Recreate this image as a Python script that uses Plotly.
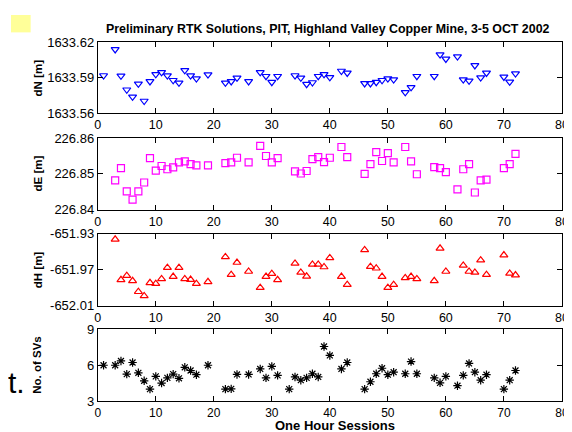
import plotly.graph_objects as go

# ---------------- data ----------------
dn_sessions = [1, 3, 4, 5, 6, 7, 8, 9, 10, 11, 12, 13, 14, 15, 16, 17, 19, 22, 23, 24, 26, 28, 29, 30, 31,
               34, 35, 36, 37, 38, 39, 40, 42, 43, 46, 47, 48, 49, 50, 51, 53, 54, 55, 58, 59, 60, 62, 63,
               64, 65, 66, 67, 70, 71, 72]
dn_values = [1633.592, 1633.614, 1633.5917, 1633.580, 1633.574, 1633.585, 1633.5705, 1633.587, 1633.593,
             1633.5947, 1633.5919, 1633.588, 1633.5858, 1633.5964, 1633.5919, 1633.5894, 1633.5928,
             1633.5858, 1633.587, 1633.590, 1633.587, 1633.5947, 1633.5914, 1633.5864, 1633.5914,
             1633.592, 1633.590, 1633.5847, 1633.5861, 1633.5914, 1633.593, 1633.5905, 1633.5958,
             1633.5942, 1633.5853, 1633.5853, 1633.5864, 1633.588, 1633.5894, 1633.5886, 1633.5778,
             1633.582, 1633.5914, 1633.5914, 1633.6097, 1633.606, 1633.608, 1633.5886, 1633.5875,
             1633.6005, 1633.5903, 1633.5942, 1633.5908, 1633.5867, 1633.5936]

de_sessions = [3, 4, 5, 6, 7, 8, 9, 10, 11, 12, 13, 14, 15, 16, 17, 19, 22, 23, 24, 26, 28, 29, 30, 31,
               34, 35, 36, 37, 38, 39, 40, 42, 43, 46, 47, 48, 49, 50, 51, 53, 54, 55, 58, 59, 60, 62, 63,
               64, 65, 66, 67, 70, 71, 72]
de_values = [226.8482, 226.8516, 226.8451, 226.8428, 226.8451, 226.8476, 226.8544, 226.8509, 226.8522,
             226.8513, 226.8518, 226.8532, 226.8535, 226.8527, 226.8524, 226.8524, 226.8530, 226.8532,
             226.8545, 226.8532, 226.8578, 226.8550, 226.8532, 226.8544, 226.8507, 226.8501, 226.8508,
             226.8541, 226.8547, 226.8533, 226.8545, 226.8575, 226.8547, 226.8500, 226.8527, 226.8561,
             226.8536, 226.8558, 226.8532, 226.8575, 226.8535, 226.8499, 226.8519, 226.8516, 226.8505,
             226.8457, 226.8513, 226.8527, 226.8448, 226.8482, 226.8484, 226.8516, 226.8527, 226.8556]

dh_sessions = [3, 4, 5, 6, 7, 8, 9, 10, 11, 12, 13, 14, 15, 16, 17, 19, 22, 23, 24, 26, 28, 29, 30, 31,
               34, 35, 36, 37, 38, 39, 40, 42, 43, 46, 47, 48, 49, 50, 51, 53, 54, 55, 58, 59, 60, 63,
               64, 65, 66, 67, 70, 71, 72]
dh_values = [-651.9361, -651.9813, -651.9767, -651.9824, -651.9946, -651.9993, -651.9846, -651.9856,
             -651.9803, -651.9677, -651.9777, -651.9677, -651.9803, -651.9810, -651.9856, -651.9835,
             -651.9558, -651.9756, -651.9620, -651.9720, -651.9900, -651.9777, -651.9745, -651.9813,
             -651.9630, -651.9731, -651.9774, -651.9641, -651.9641, -651.9670, -651.9569, -651.9777,
             -651.9867, -651.9480, -651.9666, -651.9684, -651.9777, -651.9900, -651.9867, -651.9792,
             -651.9777, -651.9803, -651.9824, -651.9462, -651.9720, -651.9652, -651.9720, -651.9731,
             -651.9594, -651.9756, -651.9537, -651.9742, -651.9760]

sv_sessions = [1, 3, 4, 5, 6, 7, 8, 9, 10, 11, 12, 13, 14, 15, 16, 17, 19, 22, 23, 24, 26, 28, 29, 30, 31,
               33, 34, 35, 36, 37, 38, 39, 40, 42, 43, 46, 47, 48, 49, 50, 51, 53, 54, 55, 58, 59, 60, 62,
               63, 64, 65, 66, 67, 70, 71, 72]
sv_values = [6.0, 6.0, 6.36, 5.26, 6.23, 5.37, 4.70, 4.0, 5.07, 4.51, 4.94, 5.26, 4.91, 5.83, 5.56, 5.21,
             6.0, 4.0, 4.02, 5.23, 5.23, 5.69, 4.94, 5.91, 5.15, 4.0, 5.02, 4.75, 4.94, 5.29, 5.02, 7.57,
             6.82, 5.69, 6.23, 4.0, 4.62, 5.29, 5.75, 5.21, 5.42, 5.29, 6.31, 5.29, 4.94, 4.53, 5.07, 4.29,
             5.15, 6.15, 5.42, 4.75, 5.21, 4.0, 4.75, 5.56]

x_ticks = [0, 10, 20, 30, 40, 50, 60, 70, 80]
dn_ticks = [1633.56, 1633.59, 1633.62]
de_ticks = [226.84, 226.85, 226.86]
dh_ticks = [-652.01, -651.97, -651.93]
sv_ticks = [3, 6, 9]

title_text = "Preliminary RTK Solutions, PIT, Highland Valley Copper Mine, 3-5 OCT 2002"
y_titles = ["dN [m]", "dE [m]", "dH [m]", "No. of SVs"]
x_title = "One Hour Sessions"

# ---------------- figure ----------------
W, H = 572, 432
FONT = "Liberation Sans, Arial, Helvetica, sans-serif"

fig = go.Figure()

series = [
    (dn_sessions, dn_values, "triangle-down-open", "#0000ff", 7),
    (de_sessions, de_values, "square-open", "#ff00ff", 7),
    (dh_sessions, dh_values, "triangle-up-open", "#ff0000", 7),
    (sv_sessions, sv_values, "asterisk-open", "#000000", 7),
]
for i, (xs, ys, sym, col, sz) in enumerate(series):
    suffix = "" if i == 0 else str(i + 1)
    fig.add_trace(go.Scatter(
        x=xs, y=ys, mode="markers",
        marker=dict(symbol=sym, size=sz, color=col, line=dict(color=col, width=1.2)),
        xaxis="x" + suffix, yaxis="y" + suffix, showlegend=False,
    ))

# panel pixel extents (top, bottom)
panels = [(28.3, 102.0), (127.5, 201.7), (226.7, 301.0), (325.7, 400.0)]
x_dom = [88.3 / W, 560.7 / W]
y_specs = [
    (dn_ticks, [f"{v:.2f}" for v in dn_ticks]),
    (de_ticks, [f"{v:.2f}" for v in de_ticks]),
    (dh_ticks, [f"{v:.2f}" for v in dh_ticks]),
    (sv_ticks, [str(v) for v in sv_ticks]),
]

layout = dict(
    width=W, height=H,
    margin=dict(l=0, r=0, t=0, b=0),
    paper_bgcolor="white", plot_bgcolor="white",
    font=dict(family=FONT, size=13, color="black"),
    showlegend=False,
)

for i, ((top, bot), (tv, tt)) in enumerate(zip(panels, y_specs)):
    suffix = "" if i == 0 else str(i + 1)
    xa = dict(
        domain=x_dom, range=[0, 80], anchor="y" + suffix,
        tickvals=x_ticks, ticktext=[str(v) for v in x_ticks],
        ticks="inside", ticklen=5, tickcolor="black", tickwidth=1,
        showline=True, linecolor="black", linewidth=1, mirror="allticks",
        showgrid=False, zeroline=False,
        tickfont=dict(family=FONT, size=12.5 if i < 3 else 12, color="black"),
    )
    ya = dict(
        domain=[1 - bot / H, 1 - top / H], range=[tv[0], tv[-1]], anchor="x" + suffix,
        tickvals=tv, ticktext=tt,
        ticks="inside", ticklen=5, tickcolor="black", tickwidth=1,
        showline=True, linecolor="black", linewidth=1, mirror="allticks",
        showgrid=False, zeroline=False,
        tickfont=dict(family=FONT, size=13, color="black"),
    )
    layout["xaxis" + suffix] = xa
    layout["yaxis" + suffix] = ya

fig.update_layout(**layout)

annotations = [
    dict(text="<b>" + title_text + "</b>", x=322.5 / W, y=1 - 14 / H, xref="paper", yref="paper",
         xanchor="center", yanchor="middle", showarrow=False, font=dict(family=FONT, size=12.4, color="black")),
    dict(text="<b>" + x_title + "</b>", x=330 / W, y=1 - 425.2 / H, xref="paper", yref="paper",
         xanchor="center", yanchor="middle", showarrow=False, borderpad=0,
         font=dict(family=FONT, size=13, color="black")),
    dict(text="t.", x=-5 / W, y=1 - 381 / H, xref="paper", yref="paper",
         xanchor="left", yanchor="middle", showarrow=False, font=dict(family=FONT, size=30, color="black")),
]
for (top, bot), txt in zip(panels, y_titles):
    annotations.append(dict(
        text="<b>" + txt + "</b>", x=27 / W, y=1 - (top + bot) / 2 / H, xref="paper", yref="paper",
        xanchor="center", yanchor="middle", textangle=-90, showarrow=False,
        font=dict(family=FONT, size=11.5, color="black")))
fig.update_layout(annotations=annotations)

fig.add_shape(type="rect", xref="paper", yref="paper", x0=0, x1=20 / W, y0=1 - 18 / H, y1=1,
              fillcolor="#ffff99", line=dict(width=0), layer="below")

fig.write_html("out.html")
